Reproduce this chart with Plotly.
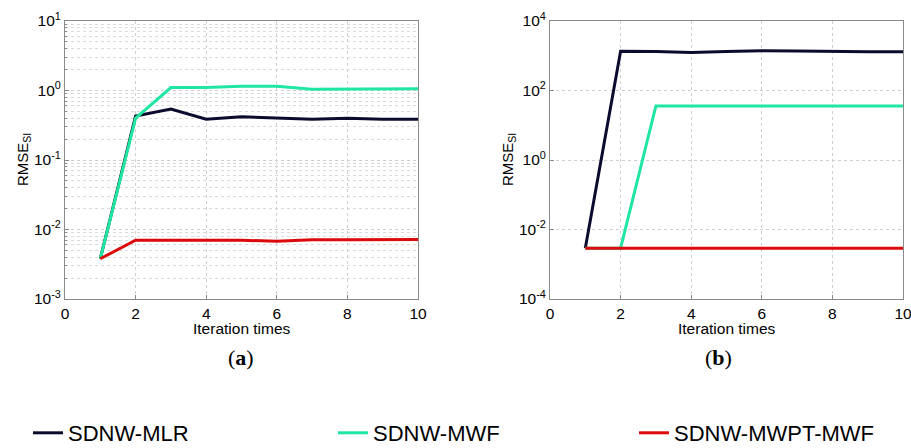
import plotly.graph_objects as go

iterations = [1, 2, 3, 4, 5, 6, 7, 8, 9, 10]

# (a)
a_mlr = [0.0038, 0.43, 0.54, 0.385, 0.42, 0.40, 0.385, 0.40, 0.385, 0.385]
a_mwf = [0.0038, 0.40, 1.10, 1.10, 1.15, 1.15, 1.04, 1.04, 1.05, 1.06]
a_mwpt = [0.0038, 0.0070, 0.0070, 0.0070, 0.0070, 0.0068, 0.0071, 0.0071, 0.0072, 0.0072]

# (b)
b_mlr = [0.0029, 1340, 1320, 1250, 1330, 1400, 1380, 1320, 1300, 1300]
b_mwf = [0.0029, 0.0029, 36, 36, 36, 36, 36, 36, 36, 36]
b_mwpt = [0.0029] * 10

series_names = ["SDNW-MLR", "SDNW-MWF", "SDNW-MWPT-MWF"]
colors = ["#0b0b2e", "#1fe6a0", "#dc0a0a"]
legend_ids = ["legend", "legend2", "legend3"]

a_ticks = [1e-3, 1e-2, 1e-1, 1e0, 1e1]
a_ticktext = ["10<sup>-3</sup>", "10<sup>-2</sup>", "10<sup>-1</sup>", "10<sup>0</sup>", "10<sup>1</sup>"]
b_ticks = [1e-4, 1e-2, 1e0, 1e2, 1e4]
b_ticktext = ["10<sup>-4</sup>", "10<sup>-2</sup>", "10<sup>0</sup>", "10<sup>2</sup>", "10<sup>4</sup>"]
x_ticks = [0, 2, 4, 6, 8, 10]

fig = go.Figure()
for vals, name, col, lg in zip([a_mlr, a_mwf, a_mwpt], series_names, colors, legend_ids):
    fig.add_trace(go.Scatter(x=iterations, y=vals, mode="lines", name=name,
                             line=dict(color=col, width=3), xaxis="x", yaxis="y",
                             legendgroup=name, legend=lg))
for vals, name, col, lg in zip([b_mlr, b_mwf, b_mwpt], series_names, colors, legend_ids):
    fig.add_trace(go.Scatter(x=iterations, y=vals, mode="lines", name=name,
                             line=dict(color=col, width=3), xaxis="x2", yaxis="y2",
                             legendgroup=name, legend=lg, showlegend=False))

W, H = 911, 448
font = "Liberation Sans, Arial, sans-serif"
grid = "#cfcfcf"
tickfont = dict(size=15.5, color="black", family=font)

def xax(domain, anchor):
    return dict(domain=domain, anchor=anchor, range=[0, 10], tickvals=x_ticks,
                showgrid=True, gridcolor=grid, griddash="dot", gridwidth=1,
                showline=True, linecolor="#8a8a8a", linewidth=1, mirror=True,
                ticks="inside", ticklen=4, tickcolor="#8a8a8a",
                tickfont=tickfont, zeroline=False, automargin=False,
                ticklabeloverflow="allow")

def yax(domain, anchor, rng, tv, tt, minor):
    d = dict(domain=domain, anchor=anchor, type="log", range=rng, tickvals=tv, ticktext=tt,
             showgrid=True, gridcolor=grid, griddash="dot", gridwidth=1,
             showline=True, linecolor="#8a8a8a", linewidth=1, mirror=True,
             ticks="inside", ticklen=4, tickcolor="#8a8a8a",
             tickfont=tickfont, zeroline=False, automargin=False,
             ticklabeloverflow="allow")
    if minor:
        d["minor"] = dict(dtick="D1", showgrid=True, gridcolor="#dadada", griddash="dot",
                          ticks="inside", ticklen=2, tickcolor="#8a8a8a")
    return d

def ann(text, x, y, size, family=font, angle=0):
    return dict(text=text, x=x / W, y=1 - y / H, xref="paper", yref="paper",
                xanchor="center", yanchor="middle", showarrow=False, textangle=angle,
                font=dict(size=size, color="black", family=family))

def leg(xpx):
    return dict(orientation="h", x=xpx / W, xanchor="left", y=1 - 433 / H, yanchor="middle",
                font=dict(size=22, color="black", family=font),
                bgcolor="rgba(0,0,0,0)", borderwidth=0)

ydom = [1 - 299 / H, 1 - 21 / H]
serif = "Liberation Serif, DejaVu Serif, serif"
fig.update_layout(
    width=W, height=H,
    margin=dict(l=0, r=0, t=0, b=0, autoexpand=False),
    paper_bgcolor="white", plot_bgcolor="white",
    xaxis=xax([65 / W, 418 / W], "y"),
    yaxis=yax(ydom, "x", [-3, 1], a_ticks, a_ticktext, True),
    xaxis2=xax([550 / W, 903 / W], "y2"),
    yaxis2=yax(ydom, "x2", [-4, 4], b_ticks, b_ticktext, False),
    showlegend=True,
    legend=leg(28),
    legend2=leg(333),
    legend3=leg(634),
    annotations=[
        ann("Iteration times", 241.5, 328, 15.5),
        ann("Iteration times", 726.5, 328, 15.5),
        ann("RMSE<sub>SI</sub>", 23, 160, 15, angle=-90),
        ann("RMSE<sub>SI</sub>", 508, 160, 15, angle=-90),
        ann("(<b>a</b>)", 241, 357, 22, family=serif),
        ann("(<b>b</b>)", 718, 357, 22, family=serif),
    ],
)

fig.write_html("out.html", post_script="document.body.style.margin='0';",
               config={"displayModeBar": False})
